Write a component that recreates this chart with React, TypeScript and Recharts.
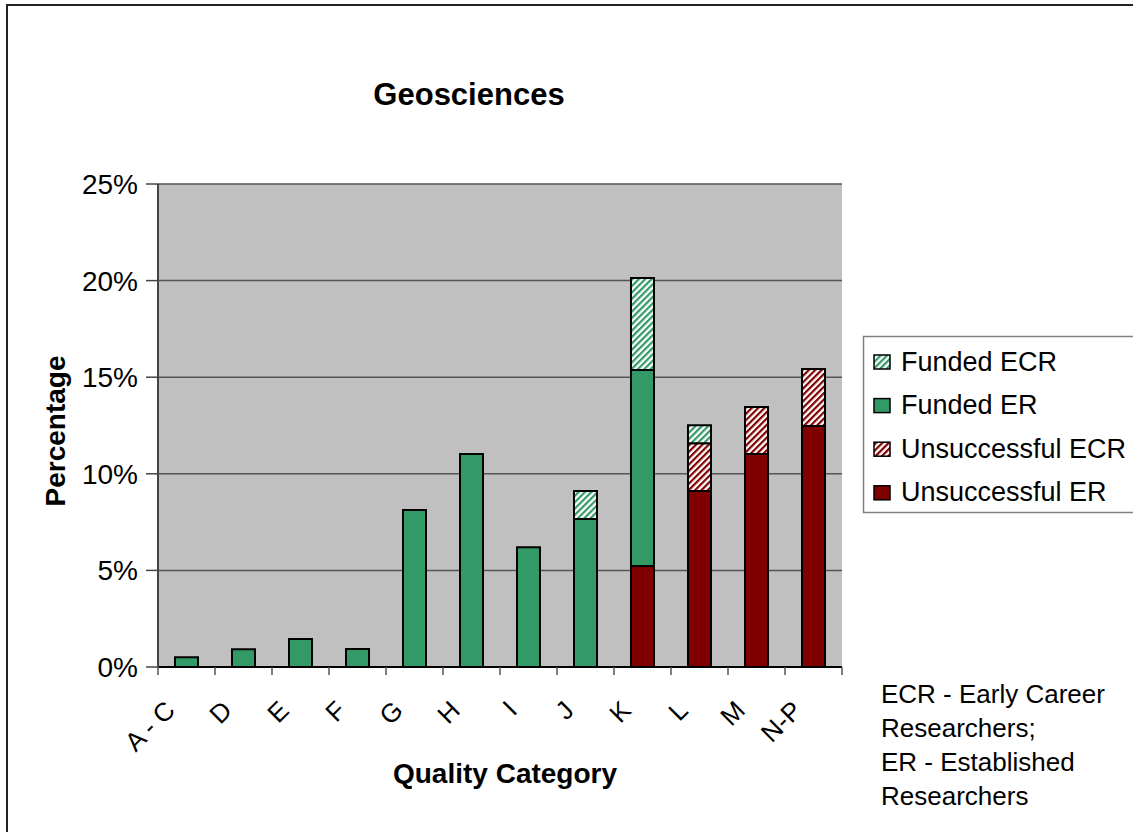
import { Bar, BarChart, CartesianGrid, XAxis, YAxis } from 'recharts'

const CATEGORIES = ['A - C', 'D', 'E', 'F', 'G', 'H', 'I', 'J', 'K', 'L', 'M', 'N-P']
const UNSUCCESSFUL_ER = [0, 0, 0, 0, 0, 0, 0, 0, 5.23, 9.11, 11.02, 12.47]
const UNSUCCESSFUL_ECR = [0, 0, 0, 0, 0, 0, 0, 0, 0, 2.47, 2.44, 2.95]
const FUNDED_ER = [0.5, 0.92, 1.45, 0.93, 8.13, 11.02, 6.2, 7.66, 10.14, 0, 0, 0]
const FUNDED_ECR = [0, 0, 0, 0, 0, 0, 0, 1.45, 4.76, 0.93, 0, 0]
const Y_TICKS = [0, 5, 10, 15, 20, 25]

const LEGEND_ITEMS = [
  { label: 'Funded ECR', fill: 'url(#hatchGreen)' },
  { label: 'Funded ER', fill: '#339966' },
  { label: 'Unsuccessful ECR', fill: 'url(#hatchRed)' },
  { label: 'Unsuccessful ER', fill: '#800000' },
]
const FOOTNOTE = ['ECR - Early Career', 'Researchers;', 'ER - Established', 'Researchers']

const FONT = '"Liberation Sans", Arial, sans-serif'
const W = 1133
const H = 832
const PLOT_LEFT = 158
const PLOT_TOP = 184
const PLOT_RIGHT = 842
const PLOT_BOTTOM = 667
const YAXIS_W = 100
const XAXIS_H = 100
const BAND = (PLOT_RIGHT - PLOT_LEFT) / CATEGORIES.length

const data = CATEGORIES.map((category, i) => ({
  category,
  unsuccessfulER: UNSUCCESSFUL_ER[i],
  unsuccessfulECR: UNSUCCESSFUL_ECR[i],
  fundedER: FUNDED_ER[i],
  fundedECR: FUNDED_ECR[i],
}))

function CategoryTick({ x, y, payload, index }: { x: number; y: number; payload: { value: string }; index: number }) {
  const half = BAND / 2
  const tx = x - 10
  const ty = y + 45
  return (
    <g>
      <line x1={x - half} x2={x - half} y1={y} y2={y + 8} stroke="#555" strokeWidth={1.5} />
      {index === CATEGORIES.length - 1 && (
        <line x1={x + half} x2={x + half} y1={y} y2={y + 8} stroke="#555" strokeWidth={1.5} />
      )}
      <text
        x={tx}
        y={ty}
        transform={`rotate(-45, ${tx}, ${ty})`}
        textAnchor="end"
        fontSize={26}
        fontFamily={FONT}
        fill="#000"
      >
        {payload.value}
      </text>
    </g>
  )
}

export default function App() {
  return (
    <div
      style={{
        position: 'absolute',
        left: 0,
        top: 0,
        width: W,
        height: H,
        overflow: 'hidden',
        background: '#fff',
      }}
    >
      <div
        style={{
          position: 'absolute',
          left: 6,
          top: 4,
          width: 1300,
          height: 1000,
          border: '2px solid #222',
        }}
      />
      <svg width={W} height={H} style={{ position: 'absolute', left: 0, top: 0 }}>
        <defs>
          <pattern id="hatchGreen" patternUnits="userSpaceOnUse" width={4.5} height={4.5} patternTransform="rotate(45)">
            <rect width={4.5} height={4.5} fill="#fff" />
            <rect width={2.2} height={4.5} fill="#339966" />
          </pattern>
          <pattern id="hatchRed" patternUnits="userSpaceOnUse" width={4.5} height={4.5} patternTransform="rotate(45)">
            <rect width={4.5} height={4.5} fill="#fff" />
            <rect width={2.2} height={4.5} fill="#800000" />
          </pattern>
        </defs>
        <text x={469} y={105} textAnchor="middle" fontSize={31} fontWeight="bold" fontFamily={FONT}>
          Geosciences
        </text>
        <text
          x={65}
          y={431}
          transform="rotate(-90, 65, 431)"
          textAnchor="middle"
          fontSize={28}
          fontWeight="bold"
          fontFamily={FONT}
        >
          Percentage
        </text>
        <text x={505} y={783} textAnchor="middle" fontSize={28} fontWeight="bold" fontFamily={FONT}>
          Quality Category
        </text>
        {FOOTNOTE.map((line, i) => (
          <text key={line + i} x={881} y={703 + i * 34} fontSize={26} fontFamily={FONT}>
            {line}
          </text>
        ))}
        <rect x={863.5} y={336.5} width={400} height={176} fill="#fff" stroke="#808080" strokeWidth={1.5} />
        {LEGEND_ITEMS.map((item, i) => (
          <g key={item.label}>
            <rect x={874} y={355 + i * 43.6} width={16} height={14} fill={item.fill} stroke="#000" strokeWidth={1.5} />
            <text x={901} y={370.5 + i * 43.6} fontSize={27} fontFamily={FONT} fill="#000">
              {item.label}
            </text>
          </g>
        ))}
      </svg>
      <div style={{ position: 'absolute', left: 0, top: 0 }}>
        <BarChart
          width={W}
          height={H}
          data={data}
          margin={{
            top: PLOT_TOP,
            left: PLOT_LEFT - YAXIS_W,
            right: W - PLOT_RIGHT,
            bottom: H - PLOT_BOTTOM - XAXIS_H,
          }}
        >
          <CartesianGrid vertical={false} fill="#c0c0c0" stroke="#555" strokeWidth={1.5} />
          <XAxis
            dataKey="category"
            height={XAXIS_H}
            interval={0}
            tickLine={false}
            tickSize={0}
            tickMargin={0}
            axisLine={{ stroke: '#000', strokeWidth: 2 }}
            tick={(props: any) => <CategoryTick {...props} />}
          />
          <XAxis
            xAxisId="top"
            orientation="top"
            dataKey="category"
            height={0}
            tick={false}
            tickLine={false}
            axisLine={{ stroke: '#808080', strokeWidth: 2.5 }}
          />
          <YAxis
            width={YAXIS_W}
            type="number"
            domain={[0, 25]}
            ticks={Y_TICKS}
            interval={0}
            tickFormatter={(v: number) => `${v}%`}
            tickSize={12}
            tickMargin={8}
            tickLine={{ stroke: '#444', strokeWidth: 1.5 }}
            axisLine={{ stroke: '#444', strokeWidth: 2 }}
            tick={{ fontSize: 28, fontFamily: FONT, fill: '#000' }}
          />
          <YAxis
            yAxisId="right"
            orientation="right"
            width={0}
            type="number"
            domain={[0, 25]}
            tick={false}
            tickLine={false}
            axisLine={{ stroke: '#808080', strokeWidth: 2.5 }}
          />
          <Bar dataKey="unsuccessfulER" stackId="a" barSize={23} fill="#800000" stroke="#000" strokeWidth={2} isAnimationActive={false} />
          <Bar dataKey="unsuccessfulECR" stackId="a" barSize={23} fill="url(#hatchRed)" stroke="#000" strokeWidth={2} isAnimationActive={false} />
          <Bar dataKey="fundedER" stackId="a" barSize={23} fill="#339966" stroke="#000" strokeWidth={2} isAnimationActive={false} />
          <Bar dataKey="fundedECR" stackId="a" barSize={23} fill="url(#hatchGreen)" stroke="#000" strokeWidth={2} isAnimationActive={false} />
        </BarChart>
      </div>
    </div>
  )
}
